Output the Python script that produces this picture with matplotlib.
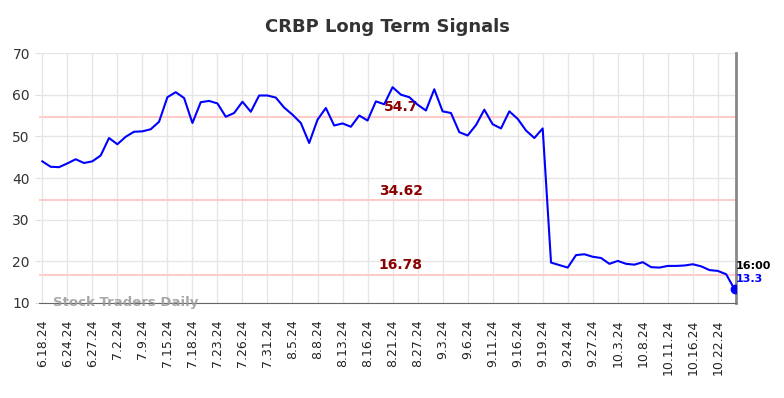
import matplotlib.pyplot as plt

# CRBP long term signal values (one per trading day)
values = [44.0, 42.7, 42.6, 43.5, 44.5, 43.6, 44.0, 45.4, 49.6, 48.1,
          49.9, 51.1, 51.2, 51.7, 53.5, 59.4, 60.6, 59.2, 53.2, 58.2,
          58.5, 57.9, 54.7, 55.6, 58.3, 55.9, 59.8, 59.8, 59.3, 56.9,
          55.2, 53.2, 48.4, 54.0, 56.8, 52.6, 53.1, 52.3, 55.0, 53.8,
          58.4, 57.7, 61.8, 60.0, 59.4, 57.6, 56.2, 61.3, 56.0, 55.6,
          51.0, 50.2, 52.7, 56.4, 52.9, 51.9, 56.0, 54.2, 51.4, 49.6,
          51.9, 19.7, 19.1, 18.5, 21.5, 21.7, 21.1, 20.8, 19.4, 20.1,
          19.4, 19.2, 19.8, 18.6, 18.5, 18.9, 18.9, 19.0, 19.3, 18.8,
          17.9, 17.7, 16.9, 13.3]

tick_labels = ['6.18.24', '6.24.24', '6.27.24', '7.2.24', '7.9.24', '7.15.24',
               '7.18.24', '7.23.24', '7.26.24', '7.31.24', '8.5.24', '8.8.24',
               '8.13.24', '8.16.24', '8.21.24', '8.27.24', '9.3.24', '9.6.24',
               '9.11.24', '9.16.24', '9.19.24', '9.24.24', '9.27.24', '10.3.24',
               '10.8.24', '10.11.24', '10.16.24', '10.22.24']

levels = [54.7, 34.62, 16.78]
level_labels = ['54.7', '34.62', '16.78']

last_time = '16:00'

x = list(range(len(values)))
tick_pos = [i * 3 for i in range(len(tick_labels))]

fig = plt.figure(figsize=(7.84, 3.98), dpi=100)
ax = fig.add_axes([0.0497, 0.2387, 0.8893, 0.6281])

# horizontal signal levels
for lvl, lab in zip(levels, level_labels):
    ax.axhline(lvl, color='#ffcccc', linewidth=1.5, zorder=1)
    ax.text(43.0, lvl + 0.6, lab, color='#8b0000', fontsize=10,
            fontweight='bold', ha='center', va='bottom', zorder=3)

ax.plot(x, values, color='#0000ff', linewidth=1.5, zorder=4)
ax.plot(x[-1], values[-1], 'o', color='#0000ff', markersize=6, zorder=5)

ax.text(x[-1] + 0.1, values[-1] + 5.5, last_time, color='black', fontsize=8,
        fontweight='bold', ha='left', va='center')
ax.text(x[-1] + 0.1, values[-1] + 2.4, str(values[-1]), color='#0000ff',
        fontsize=8, fontweight='bold', ha='left', va='center')

ax.text(1.3, 10.0, 'Stock Traders Daily', color='#999999', fontsize=9.5,
        fontweight='bold', ha='left', va='center', alpha=0.85, zorder=6)

ax.set_xlim(-0.4, 83.2)
ax.set_ylim(10, 70)
ax.set_yticks([10, 20, 30, 40, 50, 60, 70])
ax.set_xticks(tick_pos)
ax.set_xticklabels(tick_labels, rotation=90, fontsize=9, color='#222222')
ax.tick_params(axis='y', labelsize=10, colors='#333333', length=3, color='#dddddd')
ax.tick_params(axis='x', length=0, pad=12)

ax.grid(True, color='#e6e6e6', linewidth=1, zorder=0)
ax.set_axisbelow(True)

ax.spines['top'].set_visible(False)
ax.spines['left'].set_visible(False)
ax.spines['bottom'].set_color('#666666')
ax.spines['right'].set_color('#888888')
ax.spines['right'].set_linewidth(2)

ax.set_title('CRBP Long Term Signals', fontsize=13, fontweight='bold',
             color='#333333', pad=15)

fig.savefig('out.png', dpi=100)
